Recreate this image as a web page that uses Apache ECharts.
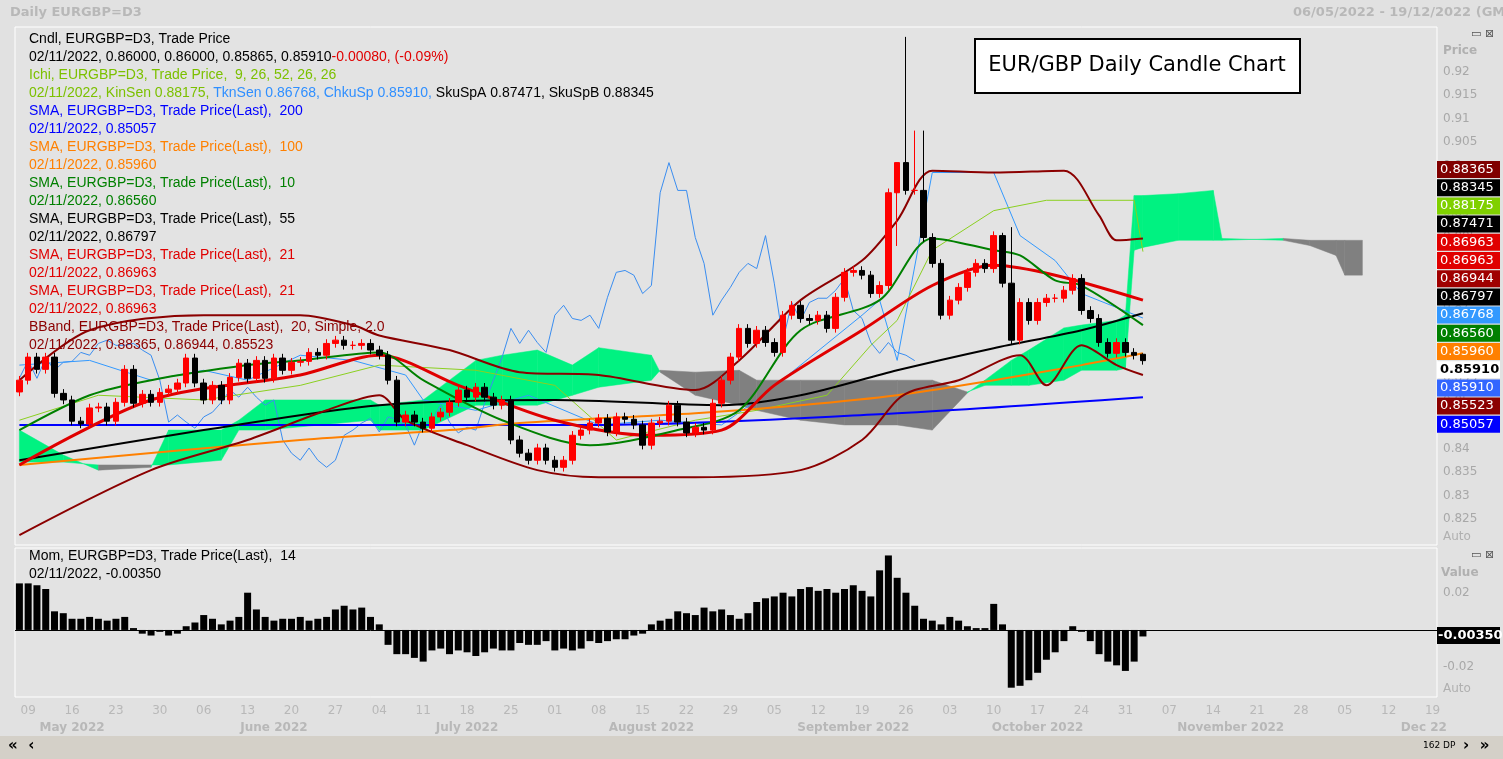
<!DOCTYPE html>
<html><head><meta charset="utf-8">
<script src="https://cdn.jsdelivr.net/npm/echarts@6/dist/echarts.min.js"></script>
<style>html,body{margin:0;padding:0;background:#e1e1e1;}#c{width:1503px;height:759px;}</style>
</head><body><div id="c"></div>
<script>
// ---------- DATA ----------
const startDate = '2022-05-06', totalSlots = 162;
const closes = [0.8545,0.8594,0.8568,0.8594,0.8517,0.8503,0.8458,0.8452,0.8486,0.8488,0.8458,0.8498,0.8568,0.8496,0.8515,0.8498,0.8519,0.8526,0.8539,0.8592,0.8539,0.8503,0.8534,0.8503,0.8551,0.8581,0.8549,0.8587,0.8549,0.8592,0.8566,0.8583,0.8585,0.8604,0.8598,0.8623,0.8630,0.8619,0.8619,0.8623,0.8609,0.8598,0.8545,0.8456,0.8471,0.8456,0.8443,0.8467,0.8477,0.8498,0.8524,0.8509,0.8530,0.8509,0.8492,0.8503,0.8418,0.8390,0.8375,0.8401,0.8375,0.8360,0.8375,0.8428,0.8439,0.8454,0.8464,0.8435,0.8467,0.8462,0.8450,0.8407,0.8454,0.8458,0.8492,0.8456,0.8433,0.8445,0.8439,0.8496,0.8545,0.8594,0.8655,0.8623,0.8651,0.8625,0.8604,0.8683,0.8704,0.8676,0.8672,0.8683,0.8655,0.8721,0.8774,0.8778,0.8768,0.8729,0.8746,0.8943,0.9007,0.8948,0.8948,0.8848,0.8793,0.8683,0.8715,0.8742,0.8774,0.8793,0.8782,0.8852,0.8751,0.8630,0.8710,0.8672,0.8710,0.8719,0.8719,0.8736,0.8761,0.8693,0.8676,0.8625,0.8602,0.8625,0.8604,0.8598,0.85865];
const firstOpen = 0.8520;
const highOverrides = {100:0.8830, 101:0.9274, 102:0.9075, 103:0.9075, 112:0.8858, 113:0.8870, 128:0.8602};
const lowOverrides = {128:0.8578};
const momentum = [25,25,24,22,10,9,6,6,7,6,5,6,7,1,-2,-3,-1,-3,-2,2,4,8,6,3,5,7,20,11,7,5,6,6,7,5,6,7,11,13,11,12,7,3,-8,-13,-13,-15,-17,-11,-10,-13,-11,-12,-14,-12,-10,-11,-11,-7,-8,-8,-6,-11,-10,-11,-10,-6,-7,-6,-5,-5,-3,-2,3,5,6,10,9,8,12,10,11,8,6,9,15,17,18,20,18,22,23,21,22,20,22,24,21,18,32,40,28,20,13,6,5,3,7,5,2,1,1,14,3,-31,-30,-27,-23,-16,-12,-6,2,-1,-6,-13,-17,-19,-22,-17,-3.5];
const sma200 = [[0,.8450],[66,.8450],[100,.8475],[128,.8509]];
const sma100 = [[0,.8365],[32,.8418],[49,.8439],[57,.8454],[77,.8475],[89,.8492],[100,.8513],[111,.8545],[121,.8577],[128,.8602]];
const sma55 = [[0,.8375],[21,.8439],[41,.8492],[61,.8503],[80,.8492],[89,.8513],[100,.8566],[111,.8613],[121,.8651],[128,.8687]];
const sma21 = [[0,.8365],[15,.8503],[32,.8556],[41,.8598],[50,.8534],[61,.8460],[72,.8428],[80,.8439],[86,.8534],[96,.8651],[104,.8746],[111,.8789],[118,.8768],[128,.8715]];
const sma10 = [[0,.8439],[8,.8513],[15,.8545],[26,.8577],[32,.8587],[41,.8604],[46,.8545],[55,.8460],[65,.8407],[75,.8439],[82,.8481],[89,.8651],[98,.8715],[104,.8846],[111,.8821],[114,.8810],[118,.8757],[121,.8746],[128,.8662]];
const bbUpper = [[0,.8545],[8,.8651],[21,.8683],[32,.8683],[38,.8662],[41,.8640],[49,.8609],[57,.8562],[66,.8556],[77,.8524],[82,.8587],[89,.8715],[96,.8799],[100,.8884],[104,.8990],[111,.8986],[119,.8990],[123,.8895],[125,.8842],[128,.8846]];
const bbLower = [[0,.8216],[15,.8354],[26,.8418],[35,.8481],[41,.8513],[44,.8460],[51,.8407],[59,.8354],[66,.8339],[77,.8339],[89,.8354],[96,.8418],[100,.8503],[102,.8524],[107,.8545],[114,.8598],[117,.8534],[121,.8619],[125,.8577],[128,.8556]];
const kijun = [[0,.8460],[9,.8513],[21,.8503],[32,.8534],[41,.8577],[52,.8566],[61,.8534],[68,.8418],[77,.8460],[84,.8481],[92,.8513],[97,.8619],[100,.8672],[104,.8821],[111,.8905],[117,.8927],[127,.8927],[128,.8818]];
const tenkan = [[0,.8577],[8,.8587],[15,.8545],[21,.8566],[26,.8545],[32,.8598],[38,.8587],[44,.8556],[46,.8503],[52,.8481],[58,.8513],[66,.8450],[73,.8460],[80,.8450],[84,.8503],[89,.8577],[96,.8683],[98,.8715],[100,.8587],[104,.8986],[111,.8986],[114,.8852],[118,.8799],[121,.8729],[128,.8677]];
const chikouShift = 26;
const cloudPts = [[0,.8439,.8371],[5,.8386,.8371],[9,.8354,.8365],[15,.8360,.8365],[17,.8439,.8365],[23,.8439,.8375],[25,.8460,.8439],[28,.8503,.8439],[40,.8503,.8460],[41,.8492,.8439],[46,.8503,.8439],[52,.8587,.8492],[55,.8598,.8492],[59,.8609,.8492],[63,.8577,.8513],[66,.8614,.8530],[72,.8598,.8545],[73,.8562,.8566],[77,.8513,.8562],[82,.8492,.8566],[84,.8481,.8545],[89,.8460,.8545],[94,.8450,.8545],[100,.8450,.8545],[104,.8439,.8545],[108,.8518,.8520],[110,.8545,.8534],[113,.8587,.8534],[115,.8609,.8534],[119,.8656,.8545],[121,.8662,.8566],[125,.8672,.8566],[126,.8683,.8570],[127,.8937,.8821],[128,.8937,.8827],[132,.8941,.8842],[136,.8948,.8842],[137,.8846,.8842],[144,.8842,.8846],[147,.8831,.8842],[150,.8810,.8842],[151,.8768,.8842],[153,.8768,.8842]];
const priceBoxes = [['0.88365','#800000','#fff'],['0.88345','#000','#fff'],['0.88175','#80d000','#fff'],['0.87471','#000','#fff'],['0.86963','#e00000','#fff'],['0.86963','#e00000','#fff'],['0.86944','#a00000','#fff'],['0.86797','#000','#fff'],['0.86768','#3399ff','#fff'],['0.86560','#008000','#fff'],['0.85960','#ff8000','#fff'],['0.85910','#fff','#000'],['0.85910','#3366ff','#fff'],['0.85523','#8b0000','#fff'],['0.85057','#0000ff','#fff']];
const monthNames = ['Jan','Feb','March','April','May 2022','June 2022','July 2022','August 2022','September 2022','October 2022','November 2022','Dec 22'];

// ---------- BUILD ----------
const dates = [];
let d = new Date(startDate + 'T00:00:00Z');
while (dates.length < totalSlots) {
  const wd = d.getUTCDay();
  if (wd !== 0 && wd !== 6) dates.push(new Date(d));
  d.setUTCDate(d.getUTCDate() + 1);
}
const cats = dates.map(x => x.toISOString().slice(0,10));
const candles = closes.map((c, i) => {
  const o = i === 0 ? firstOpen : closes[i-1];
  const o2 = i === closes.length-1 ? 0.8600 : o;
  let hi = Math.max(o2, c) + 0.0009, lo = Math.min(o2, c) - 0.0009;
  if (highOverrides[i] !== undefined) hi = highOverrides[i];
  if (lowOverrides[i] !== undefined) lo = lowOverrides[i];
  return [o2, c, lo, hi];
});
const chikou = closes.map((c, i) => [i - chikouShift, c]).filter(p => p[0] >= 0);
const cloudSegs = [];
for (let i = 0; i < cloudPts.length - 1; i++) cloudSegs.push(cloudPts[i].concat(cloudPts[i+1]));
const momVals = momentum.map(v => v / 1000);

const mondayLabel = (i) => dates[i] && dates[i].getUTCDay() === 1;
const monthLabelIdx = new Set();
{ const seen = {}; dates.forEach((dt, i) => { const m = dt.getUTCMonth(); if (dt.getUTCDate() >= 16 && !seen[m]) { seen[m] = 1; monthLabelIdx.add(i); } }); }

const line = (name, data, color, width, smooth) => ({ name, type: 'line', data, xAxisIndex: 0, yAxisIndex: 0, showSymbol: false, symbol: 'none', smooth: smooth === undefined ? 0.3 : smooth, lineStyle: { color, width }, z: 3, silent: true });

const chart = echarts.init(document.getElementById('c'));
const option = {
  animation: false,
  backgroundColor: '#e1e1e1',
  grid: [
    { left: 15, right: 66, top: 27, height: 518, show: true, backgroundColor: '#e3e3e3', borderColor: '#ffffff', borderWidth: 1 },
    { left: 15, right: 66, top: 548, height: 149, show: true, backgroundColor: '#e3e3e3', borderColor: '#ffffff', borderWidth: 1 }
  ],
  xAxis: [
    { type: 'category', data: cats, gridIndex: 0, axisLine: { show: false }, axisTick: { show: false }, axisLabel: { show: false }, splitLine: { show: false } },
    { type: 'category', data: cats, gridIndex: 1, axisLine: { show: false }, axisTick: { show: false }, splitLine: { show: false },
      axisLabel: { interval: (i) => mondayLabel(i), formatter: (v) => v.slice(8,10), color: '#b8b8b8', fontFamily: 'Tahoma, DejaVu Sans', fontSize: 12, margin: 8 } },
    { type: 'category', data: cats, gridIndex: 1, position: 'bottom', offset: 17, axisLine: { show: false }, axisTick: { show: false },
      axisLabel: { interval: (i) => monthLabelIdx.has(i), formatter: (v) => monthNames[+v.slice(5,7)-1], color: '#b8b8b8', fontFamily: 'DejaVu Sans', fontSize: 12, fontWeight: 'bold' } }
  ],
  yAxis: [
    { type: 'value', gridIndex: 0, position: 'right', min: 0.8195, max: 0.9295, interval: 0.0005, splitLine: { show: false }, axisLine: { show: false }, axisTick: { show: false },
      axisLabel: { color: '#a8a8a8', fontSize: 12, fontFamily: 'DejaVu Sans', margin: 6,
        formatter: (v) => { const k = Math.round(v * 1000) / 1000; if (Math.abs(v*200 - Math.round(v*200)) < 1e-6 && v >= 0.8249 && v <= 0.9201) return String(+k.toFixed(3)); return ''; } } },
    { type: 'value', gridIndex: 1, position: 'right', min: -0.036, max: 0.044, interval: 0.002, splitLine: { show: false }, axisLine: { show: false }, axisTick: { show: false },
      axisLabel: { color: '#a8a8a8', fontSize: 12, fontFamily: 'DejaVu Sans', margin: 6,
        formatter: (v) => Math.abs(Math.abs(v) - 0.02) < 1e-6 ? (v > 0 ? '0.02' : '-0.02') : '' } }
  ],
  series: [
    { type: 'custom', xAxisIndex: 0, yAxisIndex: 0, data: cloudSegs, z: 1, silent: true,
      renderItem: (params, api) => {
        const p1 = api.coord([api.value(0), api.value(1)]), p2 = api.coord([api.value(3), api.value(4)]);
        const p3 = api.coord([api.value(3), api.value(5)]), p4 = api.coord([api.value(0), api.value(2)]);
        const green = (api.value(1) - api.value(2)) + (api.value(4) - api.value(5)) >= 0;
        return { type: 'polygon', shape: { points: [p1, p2, p3, p4] }, style: { fill: green ? '#00f281' : '#808080', stroke: green ? '#00f281' : '#808080', lineWidth: 0.5 } };
      }, encode: { x: [0, 3], y: [1, 2, 4, 5] } },
    line('chikou', chikou, '#3a8df0', 1, false),
    line('tenkan', tenkan, '#3399ff', 1, false),
    line('kijun', kijun, '#8bd020', 1, false),
    line('sma200', sma200, '#0000ff', 2),
    line('sma100', sma100, '#ff8000', 2),
    line('sma55', sma55, '#000000', 2),
    line('bbUpper', bbUpper, '#8b0000', 2),
    line('bbLower', bbLower, '#8b0000', 2),
    line('sma21', sma21, '#e00000', 3),
    line('sma10', sma10, '#008000', 2),
    { type: 'candlestick', xAxisIndex: 0, yAxisIndex: 0, data: candles, barWidth: 6, z: 4,
      itemStyle: { color: '#ff0000', color0: '#000000', borderColor: '#ff0000', borderColor0: '#000000', borderWidth: 1 } },
    { type: 'bar', xAxisIndex: 1, yAxisIndex: 1, data: momVals, barWidth: 7, itemStyle: { color: '#000' },
      markLine: { silent: true, symbol: 'none', label: { show: false }, lineStyle: { color: '#000', width: 1, type: 'solid' }, data: [{ yAxis: -0.0035 }] } }
  ]
};
chart.setOption(option);

const T = (x, y, text, opt) => Object.assign({ type: 'text', x, y, style: Object.assign({ text, fill: '#000', font: '13px Tahoma, "DejaVu Sans"' }, opt || {}) });
const F = '14px "Liberation Sans", Tahoma';
const g = [];
g.push(T(10, 6, 'Daily EURGBP=D3', { fill: '#b8b8b8', font: 'bold 13px "DejaVu Sans"' }));
g.push(T(1293, 6, '06/05/2022 - 19/12/2022 (GMT)', { fill: '#b8b8b8', font: 'bold 13px "DejaVu Sans"' }));
const leg = [
  [{ t: 'Cndl, EURGBP=D3, Trade Price', c: '#000' }],
  [{ t: '02/11/2022, 0.86000, 0.86000, 0.85865, 0.85910', c: '#000' }, { t: '-0.00080, (-0.09%)', c: '#e00000' }],
  [{ t: 'Ichi, EURGBP=D3, Trade Price,  9, 26, 52, 26, 26', c: '#7cc000' }],
  [{ t: '02/11/2022, KinSen 0.88175, ', c: '#7cc000' }, { t: 'TknSen 0.86768, ChkuSp 0.85910, ', c: '#2f8fff' }, { t: 'SkuSpA 0.87471, SkuSpB 0.88345', c: '#000' }],
  [{ t: 'SMA, EURGBP=D3, Trade Price(Last),  200', c: '#0000ff' }],
  [{ t: '02/11/2022, 0.85057', c: '#0000ff' }],
  [{ t: 'SMA, EURGBP=D3, Trade Price(Last),  100', c: '#ff8000' }],
  [{ t: '02/11/2022, 0.85960', c: '#ff8000' }],
  [{ t: 'SMA, EURGBP=D3, Trade Price(Last),  10', c: '#008000' }],
  [{ t: '02/11/2022, 0.86560', c: '#008000' }],
  [{ t: 'SMA, EURGBP=D3, Trade Price(Last),  55', c: '#000' }],
  [{ t: '02/11/2022, 0.86797', c: '#000' }],
  [{ t: 'SMA, EURGBP=D3, Trade Price(Last),  21', c: '#e00000' }],
  [{ t: '02/11/2022, 0.86963', c: '#e00000' }],
  [{ t: 'SMA, EURGBP=D3, Trade Price(Last),  21', c: '#e00000' }],
  [{ t: '02/11/2022, 0.86963', c: '#e00000' }],
  [{ t: 'BBand, EURGBP=D3, Trade Price(Last),  20, Simple, 2.0', c: '#8b0000' }],
  [{ t: '02/11/2022, 0.88365, 0.86944, 0.85523', c: '#8b0000' }]
];
leg.forEach((parts, li) => {
  const rich = {}; let txt = '';
  parts.forEach((p, k) => { rich['s' + k] = { fill: p.c, font: F }; txt += '{s' + k + '|' + p.t + '}'; });
  g.push({ type: 'text', x: 29, y: 32 + li * 18, z: 10, style: { text: txt, rich, font: F } });
});
g.push({ type: 'rect', shape: { x: 975, y: 39, width: 325, height: 54 }, style: { fill: '#fff', stroke: '#000', lineWidth: 2 }, z: 10 });
g.push({ type: 'text', x: 1137, y: 66, z: 11, style: { text: 'EUR/GBP Daily Candle Chart', fill: '#000', font: '21px "DejaVu Sans"', align: 'center', verticalAlign: 'middle' } });
g.push(T(1443, 45, 'Price', { fill: '#b0b0b0', font: 'bold 12px "DejaVu Sans"' }));
g.push(T(1443, 531, 'Auto', { fill: '#b0b0b0', font: '12px "DejaVu Sans"' }));
g.push(T(1441, 567, 'Value', { fill: '#b0b0b0', font: 'bold 12px "DejaVu Sans"' }));
g.push(T(1443, 683, 'Auto', { fill: '#b0b0b0', font: '12px "DejaVu Sans"' }));
g.push(T(1471, 29, '▭ ⊠', { fill: '#555', font: '11px "DejaVu Sans"' }));
g.push(T(1471, 550, '▭ ⊠', { fill: '#555', font: '11px "DejaVu Sans"' }));
priceBoxes.forEach((b, k) => {
  const y = 161 + k * 18.2;
  g.push({ type: 'rect', shape: { x: 1437, y, width: 63, height: 17 }, style: { fill: b[1] }, z: 10 });
  g.push({ type: 'text', x: 1440, y: y + 2, z: 11, style: { text: b[0], fill: b[2], font: (b[2] === '#000' ? 'bold ' : '') + '13px "DejaVu Sans"' } });
});
g.push({ type: 'rect', shape: { x: 1437, y: 627, width: 63, height: 17 }, style: { fill: '#000' }, z: 10 });
g.push({ type: 'text', x: 1438, y: 629, z: 11, style: { text: '-0.00350', fill: '#fff', font: 'bold 13px "DejaVu Sans"' } });
g.push(T(29, 549, 'Mom, EURGBP=D3, Trade Price(Last),  14', { font: F }));
g.push(T(29, 567, '02/11/2022, -0.00350', { font: F }));
g.push({ type: 'rect', shape: { x: 0, y: 736, width: 1503, height: 23 }, style: { fill: '#d4d0c8' }, z: 10 });
g.push(T(8, 739, '«  ‹', { font: 'bold 15px "DejaVu Sans"', fill: '#000' }));
g.push(T(1423, 741, '162 DP', { font: '9px "DejaVu Sans"', fill: '#000' }));
g.push(T(1463, 739, '›  »', { font: 'bold 15px "DejaVu Sans"', fill: '#000' }));
chart.setOption({ graphic: g.map(e => Object.assign({ z: 10 }, e)) });
</script></body></html>
